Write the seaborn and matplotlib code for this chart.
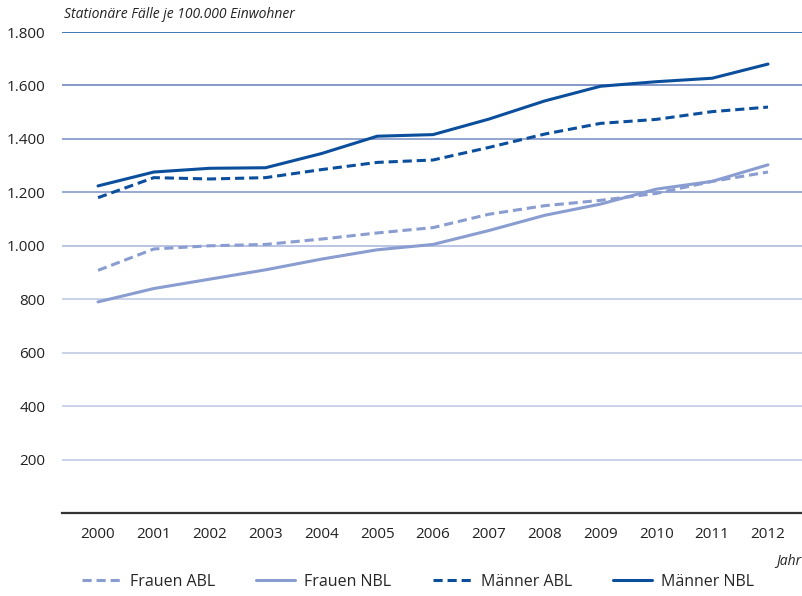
import matplotlib
matplotlib.use("Agg")
import matplotlib.pyplot as plt
import seaborn as sns
import pandas as pd
from matplotlib.lines import Line2D

years = list(range(2000, 2013))
frauen_abl = [908, 988, 1000, 1005, 1025, 1048, 1068, 1118, 1150, 1170, 1196, 1241, 1276]
frauen_nbl = [790, 840, 875, 910, 950, 985, 1005, 1057, 1114, 1156, 1212, 1241, 1303]
maenner_abl = [1180, 1255, 1250, 1255, 1285, 1312, 1321, 1368, 1418, 1458, 1473, 1502, 1519]
maenner_nbl = [1224, 1276, 1290, 1292, 1345, 1410, 1416, 1474, 1542, 1597, 1614, 1627, 1680]
series_names = ["Frauen ABL", "Frauen NBL", "Männer ABL", "Männer NBL"]
y_ticks = [200, 400, 600, 800, 1000, 1200, 1400, 1600, 1800]
y_tick_labels = ["200", "400", "600", "800", "1.000", "1.200", "1.400", "1.600", "1.800"]

df = pd.DataFrame({
    "Jahr": years * 4,
    "Wert": frauen_abl + frauen_nbl + maenner_abl + maenner_nbl,
    "Serie": sum([[n] * len(years) for n in series_names], []),
})

sns.set_theme(style="white")
plt.rcParams["font.family"] = ["Open Sans", "DejaVu Sans"]

light = "#8a9dd0"
dark = "#0b4f9c"
palette = {"Frauen ABL": light, "Frauen NBL": light, "Männer ABL": dark, "Männer NBL": dark}
dashes = {"Frauen ABL": (3, 1.6), "Frauen NBL": "", "Männer ABL": (3, 1.6), "Männer NBL": ""}

fig = plt.figure(figsize=(8.03, 5.96), dpi=100)
ax = fig.add_axes([62 / 803, 1 - 513 / 596, 1 - 62 / 803, (513 - 32) / 596])

grid_colors = ["#c6cfe8", "#c6cfe8", "#c6cfe8", "#c6cfe8", "#b3c0e0",
               "#8fa2cf", "#8a9dcc", "#7b90c4", "#2f6cb0"]
for yv, c in zip(y_ticks, grid_colors):
    ax.axhline(yv, color=c, lw=1.3, zorder=0)

sns.lineplot(data=df, x="Jahr", y="Wert", hue="Serie", style="Serie",
             palette=palette, dashes=dashes, linewidth=2.2, ax=ax, legend=False)

ax.set_xlim(1999.355, 2012.627)
ax.set_ylim(0, 1800)
ax.set_yticks(y_ticks)
ax.set_yticklabels(y_tick_labels)
ax.set_xticks(years)
ax.set_xticklabels([str(y) for y in years])
ax.tick_params(axis="both", length=0, labelsize=11, colors="#222222")
ax.tick_params(axis="y", pad=12)
ax.tick_params(axis="x", pad=10)
ax.set_xlabel("")
ax.set_ylabel("")
for s in ["top", "right", "left"]:
    ax.spines[s].set_visible(False)
ax.spines["bottom"].set_color("#333333")
ax.spines["bottom"].set_linewidth(1.6)

fig.text(64 / 803, 1 - 14 / 596, "Stationäre Fälle je 100.000 Einwohner",
         fontsize=10, style="italic", color="#222222", va="center", ha="left")
fig.text(801 / 803, 1 - 561 / 596, "Jahr", fontsize=10, style="italic",
         color="#222222", va="center", ha="right")

handles = [
    Line2D([], [], color=light, lw=2.2, dashes=(3, 1.6)),
    Line2D([], [], color=light, lw=2.2),
    Line2D([], [], color=dark, lw=2.2, dashes=(3, 1.6)),
    Line2D([], [], color=dark, lw=2.2),
]
fig.legend(handles, series_names, loc="center", bbox_to_anchor=(418 / 803, 1 - 582 / 596),
           ncol=4, frameon=False, fontsize=11.5, handlelength=2.4,
           columnspacing=2.6, handletextpad=0.6)

fig.savefig("out.png", dpi=100)
